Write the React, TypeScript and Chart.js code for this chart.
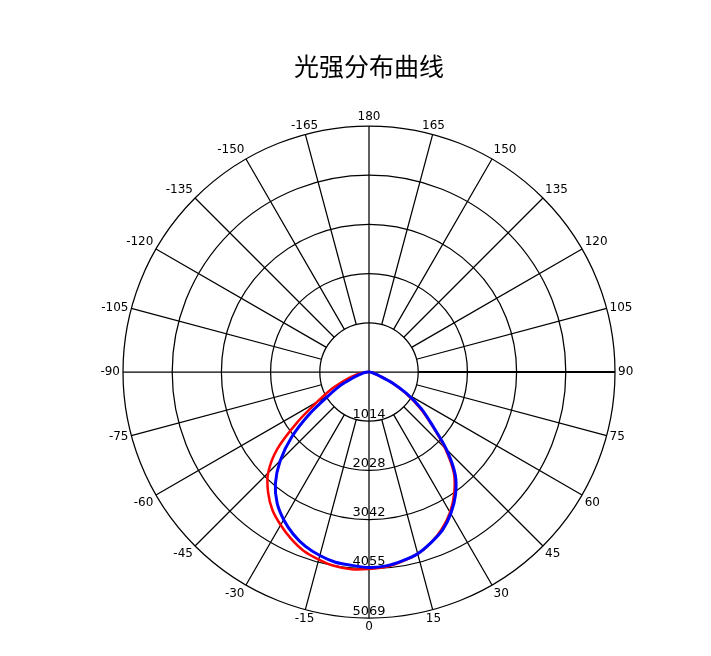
import React, { useEffect, useRef } from 'react';
import { Chart, registerables } from 'chart.js';

Chart.register(...registerables);

const TITLE = '光强分布曲线';

// angle labels clockwise from the top (180) in 5° steps
const ANGLE_LABELS = [
  '180', '175', '170', '165', '160', '155', '150', '145', '140', '135', '130', '125',
  '120', '115', '110', '105', '100', '95', '90', '85', '80', '75', '70', '65',
  '60', '55', '50', '45', '40', '35', '30', '25', '20', '15', '10', '5',
  '0', '-5', '-10', '-15', '-20', '-25', '-30', '-35', '-40', '-45', '-50', '-55',
  '-60', '-65', '-70', '-75', '-80', '-85', '-90', '-95', '-100', '-105', '-110', '-115',
  '-120', '-125', '-130', '-135', '-140', '-145', '-150', '-155', '-160', '-165', '-170', '-175',
];

const RED_VALUES = [
  0, 0, 0, 0, 0, 0, 0, 0, 0, 0, 0, 0,
  0, 0, 0, 0, 0, 0, 0, 30, 60, 100, 215, 510,
  870, 1270, 1680, 2210, 2720, 3060, 3340, 3560, 3740, 3880, 3960, 4030,
  4060, 4080, 4060, 4000, 3925, 3795, 3640, 3470, 3235, 2940, 2465, 1800,
  1235, 885, 575, 380, 225, 100, 0, 0, 0, 0, 0, 0,
  0, 0, 0, 0, 0, 0, 0, 0, 0, 0, 0, 0,
];

const BLUE_VALUES = [
  0, 0, 0, 0, 0, 0, 0, 0, 0, 0, 0, 0,
  0, 0, 0, 0, 0, 0, 0, 30, 60, 100, 225, 535,
  905, 1315, 1700, 2260, 2765, 3105, 3370, 3590, 3740, 3875, 3950, 4010,
  4030, 4000, 3980, 3915, 3825, 3690, 3515, 3300, 3000, 2590, 2075, 1480,
  945, 640, 350, 205, 125, 60, 0, 0, 0, 0, 0, 0,
  0, 0, 0, 0, 0, 0, 0, 0, 0, 0, 0, 0,
];

const TICK_VALUES = [0, 1013.8, 2027.6, 3041.4, 4055.2, 5069];
const TICK_LABELS = ['', '1014', '2028', '3042', '4055', '5069'];

const AXIS_SPOKES = [0, 36, 54]; // 180, 0, -90 go through the centre
const THICK_SPOKE = 18; // 90
const LABEL_GAP = 3;
const LABEL_FONT = '12px "DejaVu Sans"';
const TICK_FONT = '13px "DejaVu Sans"';
const GRID_WIDTH = 1.25;

export default function App() {
  const ref = useRef<HTMLCanvasElement>(null);

  useEffect(() => {
    if (!ref.current) return;

    const polarLabels = {
      id: 'polarLabels',
      beforeDatasetsDraw(chart: any) {
        const s = chart.scales.r;
        const ctx = chart.ctx;
        const r0 = s.getDistanceFromCenterForValue(TICK_VALUES[1]);
        const p = s.getPointPosition(THICK_SPOKE, r0);
        ctx.save();
        ctx.strokeStyle = '#000';
        ctx.lineWidth = GRID_WIDTH;
        ctx.beginPath();
        ctx.moveTo(s.xCenter, s.yCenter);
        ctx.lineTo(p.x, p.y);
        ctx.stroke();
        ctx.restore();
      },
      afterDatasetsDraw(chart: any) {
        const s = chart.scales.r;
        const ctx = chart.ctx;
        ctx.save();
        ctx.fillStyle = '#000';
        ctx.font = LABEL_FONT;
        const R = s.drawingArea + LABEL_GAP;
        ANGLE_LABELS.forEach((t, i) => {
          if (i % 3 !== 0) return;
          const p = s.getPointPosition(i, R);
          const dx = p.x - s.xCenter;
          const dy = p.y - s.yCenter;
          ctx.textAlign = Math.abs(dx) / R < 0.3 ? 'center' : dx > 0 ? 'left' : 'right';
          ctx.textBaseline = Math.abs(dy) / R < 0.3 ? 'middle' : dy > 0 ? 'top' : 'bottom';
          ctx.fillText(t, p.x, p.y);
        });
        ctx.font = TICK_FONT;
        ctx.textAlign = 'center';
        ctx.textBaseline = 'alphabetic';
        for (let k = 1; k < TICK_VALUES.length; k++) {
          const d = s.getDistanceFromCenterForValue(TICK_VALUES[k]);
          ctx.fillText(TICK_LABELS[k], s.xCenter, s.yCenter + d - 3.5);
        }
        ctx.restore();
      },
    };

    const chart = new Chart(ref.current, {
      type: 'radar',
      data: {
        labels: ANGLE_LABELS,
        datasets: [
          {
            label: 'B',
            data: BLUE_VALUES,
            borderColor: '#0000ff',
            backgroundColor: 'transparent',
            borderWidth: 3,
            pointRadius: 0,
            fill: false,
            tension: 0.3,
          },
          {
            label: 'A',
            data: RED_VALUES,
            borderColor: '#ff0000',
            backgroundColor: 'transparent',
            borderWidth: 2.5,
            pointRadius: 0,
            fill: false,
            tension: 0.3,
          },
        ],
      },
      options: {
        animation: false,
        responsive: true,
        maintainAspectRatio: false,
        events: [],
        layout: { padding: { left: 27, right: 0, top: 0, bottom: 37 } },
        plugins: {
          legend: { display: false },
          tooltip: { enabled: false },
          title: {
            display: true,
            text: TITLE,
            color: '#000',
            font: { family: '"Noto Sans CJK SC"', size: 25, weight: 'normal' },
            padding: { top: 51, bottom: 45 },
          },
        },
        scales: {
          r: {
            min: 0,
            max: 5069,
            startAngle: 0,
            afterBuildTicks: (axis: any) => {
              axis.ticks = TICK_VALUES.map((v) => ({ value: v }));
            },
            ticks: { display: false },
            pointLabels: { display: false },
            grid: { circular: true, color: '#000', lineWidth: GRID_WIDTH },
            angleLines: {
              display: true,
              color: '#000',
              lineWidth: (c: any) =>
                c.index === undefined
                  ? GRID_WIDTH
                  : c.index % 3 === 0
                  ? c.index === THICK_SPOKE
                    ? 2.2
                    : GRID_WIDTH
                  : 0,
              borderDash: (c: any) => {
                if (c.index === undefined || AXIS_SPOKES.includes(c.index)) return [];
                const r0 = c.scale.getDistanceFromCenterForValue(TICK_VALUES[1]);
                return [0, r0, 2000];
              },
            },
          },
        },
      } as any,
      plugins: [polarLabels],
    });

    return () => chart.destroy();
  }, []);

  return (
    <div style={{ position: 'fixed', left: 0, top: 0, width: 711, height: 656, background: '#fff' }}>
      <canvas ref={ref} />
    </div>
  );
}
